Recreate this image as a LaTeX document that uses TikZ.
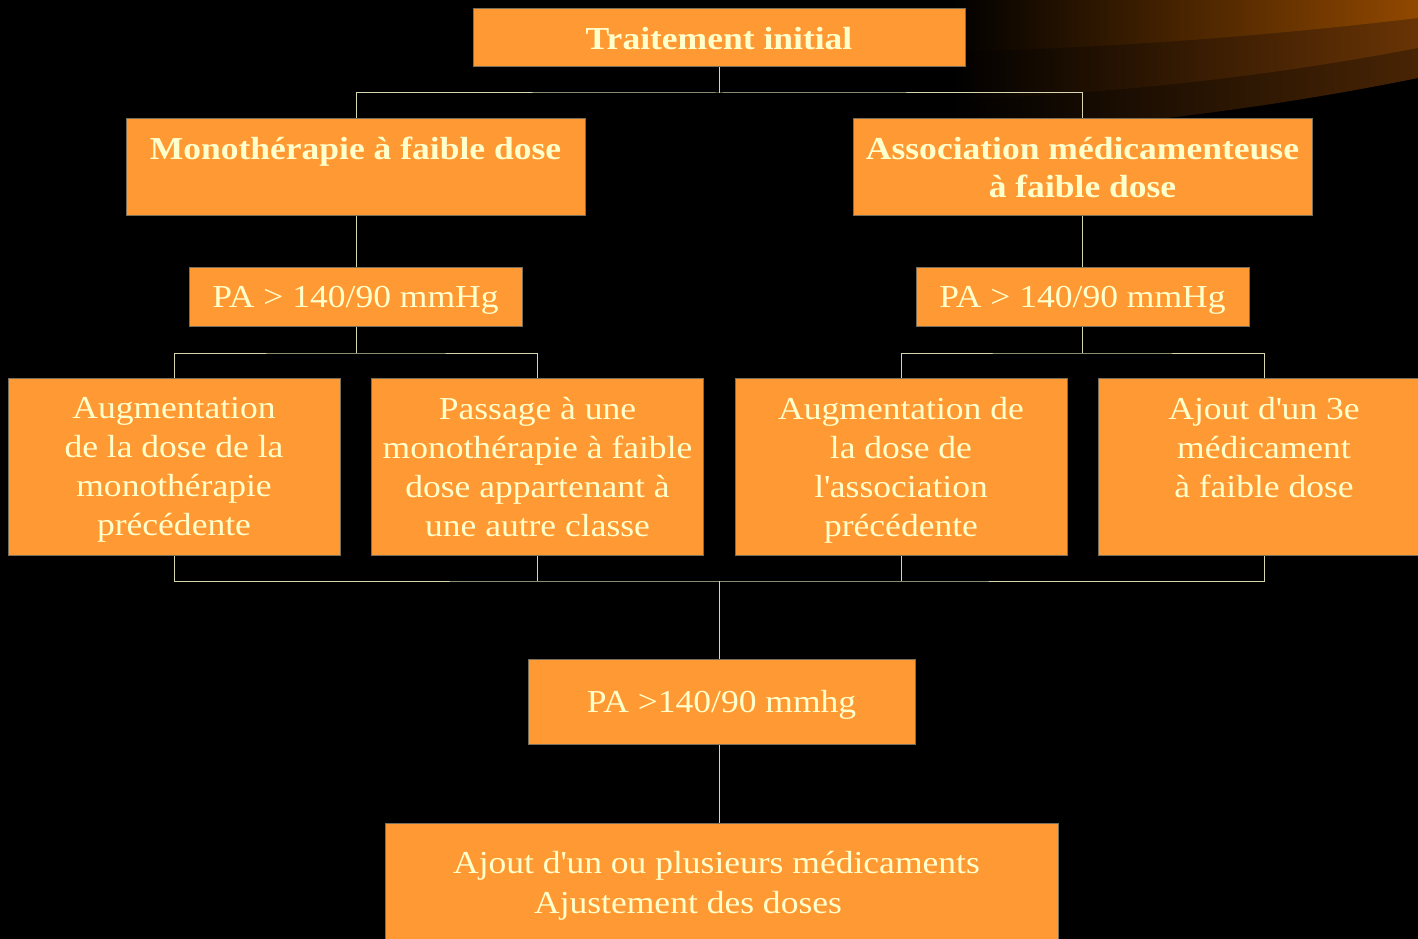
\documentclass[tikz,border=0pt]{standalone}
\usepackage{fontspec}
\setmainfont{Liberation Serif}[FakeStretch=1.11]
\usepackage{xcolor}
\usetikzlibrary{positioning, calc}

\definecolor{boxorange}{RGB}{255,153,51}
\definecolor{boxtext}{RGB}{255,255,204}
\definecolor{boxedge}{RGB}{120,110,90}
\definecolor{connline}{RGB}{215,215,175}
\definecolor{bandA}{RGB}{145,72,0}
\definecolor{bandB}{RGB}{105,52,5}
\definecolor{bandC}{RGB}{72,36,4}
\newcommand{\ap}{\textquotesingle}

\begin{document}
\begin{tikzpicture}[x=1pt, y=-1pt,
        block/.style={rectangle, draw=boxedge, fill=boxorange, text=boxtext, line width=1pt, inner sep=0pt, text depth=0pt, align=center, font=\fontsize{32}{39}\selectfont},
        title/.style={block, font=\fontsize{32}{38}\selectfont\bfseries},
        wide/.style={minimum width=459pt, minimum height=96pt},
        cond/.style={block, minimum width=333pt, minimum height=59pt},
        option/.style={block, minimum width=332pt, minimum height=177pt},
        line/.style={draw=connline, line width=1pt}]

        \useasboundingbox (0,0) rectangle (1418,939);
        \clip (0,0) rectangle (1418,939);
        \fill[black] (0,0) rectangle (1418,939);

        % Swoosh in the corner
        \shade[left color=black, right color=bandC] (950,0) -- (1418,0) -- (1418,78) .. controls (1250,112) and (1100,128) .. (950,136) -- cycle;
        \shade[left color=black, right color=bandB] (950,0) -- (1418,0) -- (1418,48) .. controls (1250,80) and (1100,94) .. (950,100) -- cycle;
        \shade[left color=black, right color=bandA] (950,0) -- (1418,0) -- (1418,18) .. controls (1250,38) and (1100,48) .. (950,52) -- cycle;

        \node [title, minimum width=492pt, minimum height=58pt] (init) at (719,38) {Traitement initial};
        \node [title, wide] (mono) at (355.5,167) {Monothérapie à faible dose\\ \mbox{}};
        \node [title, wide] (assoc) at (1082.5,167) {Association médicamenteuse\\à faible dose};

        \node [cond] (paL) at (355.5,296.5) {PA > 140/90 mmHg};
        \node [cond] (paR) at (1082.5,296.5) {PA > 140/90 mmHg};

        \node [option] (augmono) at (174,466.5) {Augmentation\\de la dose de la\\monothérapie\\précédente};
        \node [option] (passage) at (537.5,466.5) {Passage à une\\monothérapie à faible\\dose appartenant à\\une autre classe};
        \node [option] (augassoc) at (901,466.5) {Augmentation de\\la dose de\\l\ap association\\précédente};
        \node [option] (ajout3) at (1264,466.5) {Ajout d\ap un 3e\\médicament\\à faible dose\\ \mbox{}};

        \node [block, minimum width=387pt, minimum height=85pt] (paM) at (721.5,701.5) {PA >140/90 mmhg};
        \node [block, minimum width=673pt, minimum height=118pt, font=\fontsize{32}{40}\selectfont] (final) at (721.5,882) {Ajout d\ap un ou plusieurs médicaments\hspace*{10pt}\\Ajustement des doses\hspace*{67pt}};

        % Junctions
        \coordinate (j1) at (719,93);
        \coordinate (j2) at (356,353);
        \coordinate (j3) at (1082,353);
        \coordinate (j4) at (719,581);

        % Paths
        \path [line] (init.south -| j1) -- (j1);
        \path [line] (mono.north -| j2) |- (j1) -| (assoc.north -| j3);
        \path [line] (mono.south -| j2) -- (paL.north -| j2);
        \path [line] (assoc.south -| j3) -- (paR.north -| j3);
        \path [line] (paL.south -| j2) -- (j2);
        \path [line] (augmono.north) |- (j2) -| (passage.north);
        \path [line] (paR.south -| j3) -- (j3);
        \path [line] (augassoc.north) |- (j3) -| (ajout3.north);

        \path [line] (augmono.south) |- (j4) -| (ajout3.south);
        \path [line] (passage.south) -- (passage.south |- j4);
        \path [line] (augassoc.south) -- (augassoc.south |- j4);
        \path [line] (j4) -- (paM.north -| j4);
        \path [line] (paM.south -| j4) -- (final.north -| j4);

    \end{tikzpicture}
\end{document}
